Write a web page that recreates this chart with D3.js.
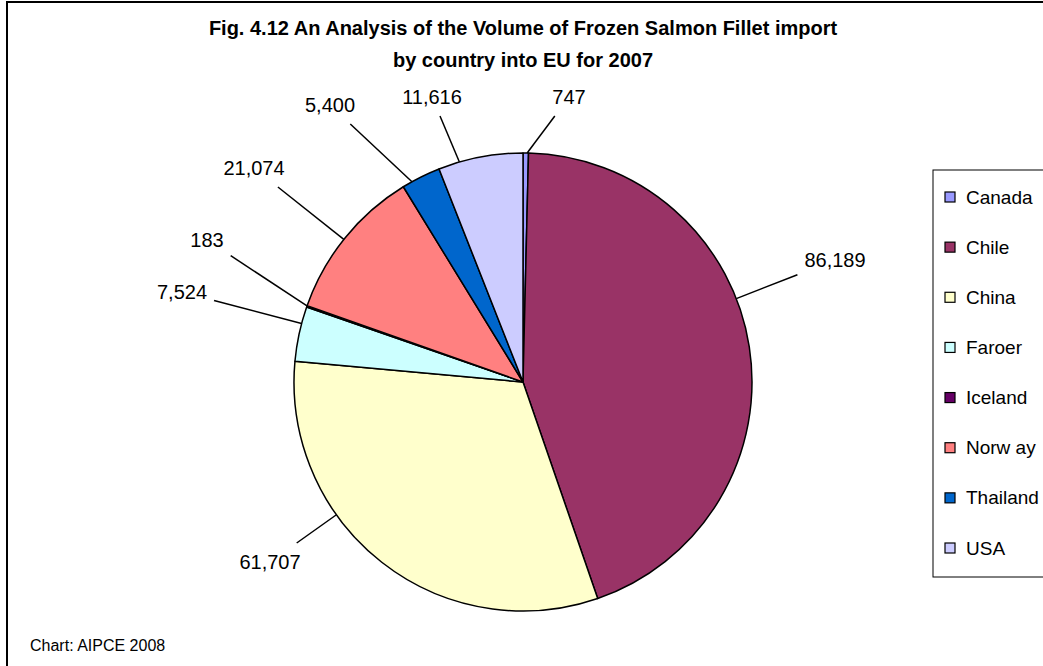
<!DOCTYPE html>
<html>
<head>
<meta charset="utf-8">
<script src="https://cdn.jsdelivr.net/npm/d3@7"></script>
<style>
  html, body { margin: 0; padding: 0; background: #fff; }
  svg { display: block; font-family: "Liberation Sans", Arial, sans-serif; }
</style>
</head>
<body>
<svg id="chart" width="1043" height="666"></svg>
<script>
// Frozen salmon fillet imports into the EU, 2007 (tonnes), by supplying country
const countries = ["Canada", "Chile", "China", "Faroer", "Iceland", "Norway", "Thailand", "USA"];
const volumes   = [747, 86189, 61707, 7524, 183, 21074, 5400, 11616];
const legendNames = ["Canada", "Chile", "China", "Faroer", "Iceland", "Norw ay", "Thailand", "USA"];
const sliceColors = ["#9999FF", "#993366", "#FFFFCC", "#CCFFFF", "#660066", "#FF8080", "#0066CC", "#CCCCFF"];
const titleLines = ["Fig. 4.12 An Analysis of the Volume of Frozen Salmon Fillet import",
                    "by country into EU for 2007"];
const sourceNote = "Chart: AIPCE 2008";

// Label text centres, relative to the pie centre
const labelOffsets = [[46, -285], [312, -122], [-253, 180], [-341, -90],
                      [-316, -142], [-269, -214], [-193, -277], [-91, -285]];

const svg = d3.select("#chart");
const W = 1043, H = 666;
const cx = 523, cy = 382, R = 229;

// Chart frame (runs past the right and bottom edges)
svg.append("rect")
  .attr("x", 7).attr("y", 2).attr("width", W + 40).attr("height", H + 40)
  .attr("fill", "#fff").attr("stroke", "#000").attr("stroke-width", 2);

// Title
svg.append("g").selectAll("text").data(titleLines).join("text")
  .attr("x", cx).attr("y", (d, i) => 35 + i * 32)
  .attr("text-anchor", "middle")
  .attr("font-weight", "bold").attr("font-size", 20)
  .text(d => d);

const fmt = d3.format(",");
const pie = d3.pie().sort(null).value(d => d.v);
const arcs = pie(countries.map((c, i) => ({ c, v: volumes[i], i })));
const arc = d3.arc().innerRadius(0).outerRadius(R);
const color = d3.scaleOrdinal().domain(countries).range(sliceColors);

const g = svg.append("g").attr("transform", `translate(${cx},${cy})`);
g.selectAll("path").data(arcs).join("path")
  .attr("d", arc)
  .attr("fill", d => color(d.data.c))
  .attr("stroke", "#000").attr("stroke-width", 1.5)
  .attr("stroke-linejoin", "round");

// Data labels with leader lines
const labels = g.append("g");
arcs.forEach((d, i) => {
  const [lx, ly] = labelOffsets[i];
  const t = labels.append("text")
    .attr("x", lx).attr("y", ly)
    .attr("text-anchor", "middle").attr("dominant-baseline", "central")
    .attr("font-size", 20).attr("fill", "#000")
    .text(fmt(d.data.v));
  const bb = t.node().getBBox();
  // point on the slice rim facing the label, kept away from the slice edges
  let a = Math.atan2(lx, -ly);
  if (a < 0) a += 2 * Math.PI;
  const inset = (d.endAngle - d.startAngle) * 0.25;
  a = Math.max(d.startAngle + inset, Math.min(d.endAngle - inset, a));
  const ex = R * Math.sin(a), ey = -R * Math.cos(a);
  // where the ray from label centre to rim leaves the padded label box
  const hw = bb.width / 2 + 7, hh = bb.height / 2 + 8;
  const dx = ex - lx, dy = ey - ly;
  const tt = Math.min(Math.abs(hw / (dx || 1e-9)), Math.abs(hh / (dy || 1e-9)));
  const sx = lx + dx * tt, sy = ly + dy * tt;
  labels.append("line")
    .attr("x1", sx).attr("y1", sy).attr("x2", ex).attr("y2", ey)
    .attr("stroke", "#000").attr("stroke-width", 1.5);
});

// Legend
const legend = svg.append("g");
legend.append("rect")
  .attr("x", 933).attr("y", 170).attr("width", 200).attr("height", 407)
  .attr("fill", "#fff").attr("stroke", "#000").attr("stroke-width", 1);
const ly = d3.scalePoint().domain(countries).range([197, 548]);
const items = legend.selectAll("g.item").data(countries).join("g")
  .attr("transform", d => `translate(945,${ly(d)})`);
items.append("rect")
  .attr("x", 0).attr("y", -5).attr("width", 10).attr("height", 10)
  .attr("fill", d => color(d)).attr("stroke", "#000").attr("stroke-width", 1.2);
items.append("text")
  .attr("x", 21).attr("y", 0).attr("dominant-baseline", "central")
  .attr("font-size", 19)
  .text((d, i) => legendNames[i]);

// Source note
svg.append("text")
  .attr("x", 30).attr("y", 645).attr("dominant-baseline", "central")
  .attr("font-size", 16)
  .text(sourceNote);
</script>
</body>
</html>
